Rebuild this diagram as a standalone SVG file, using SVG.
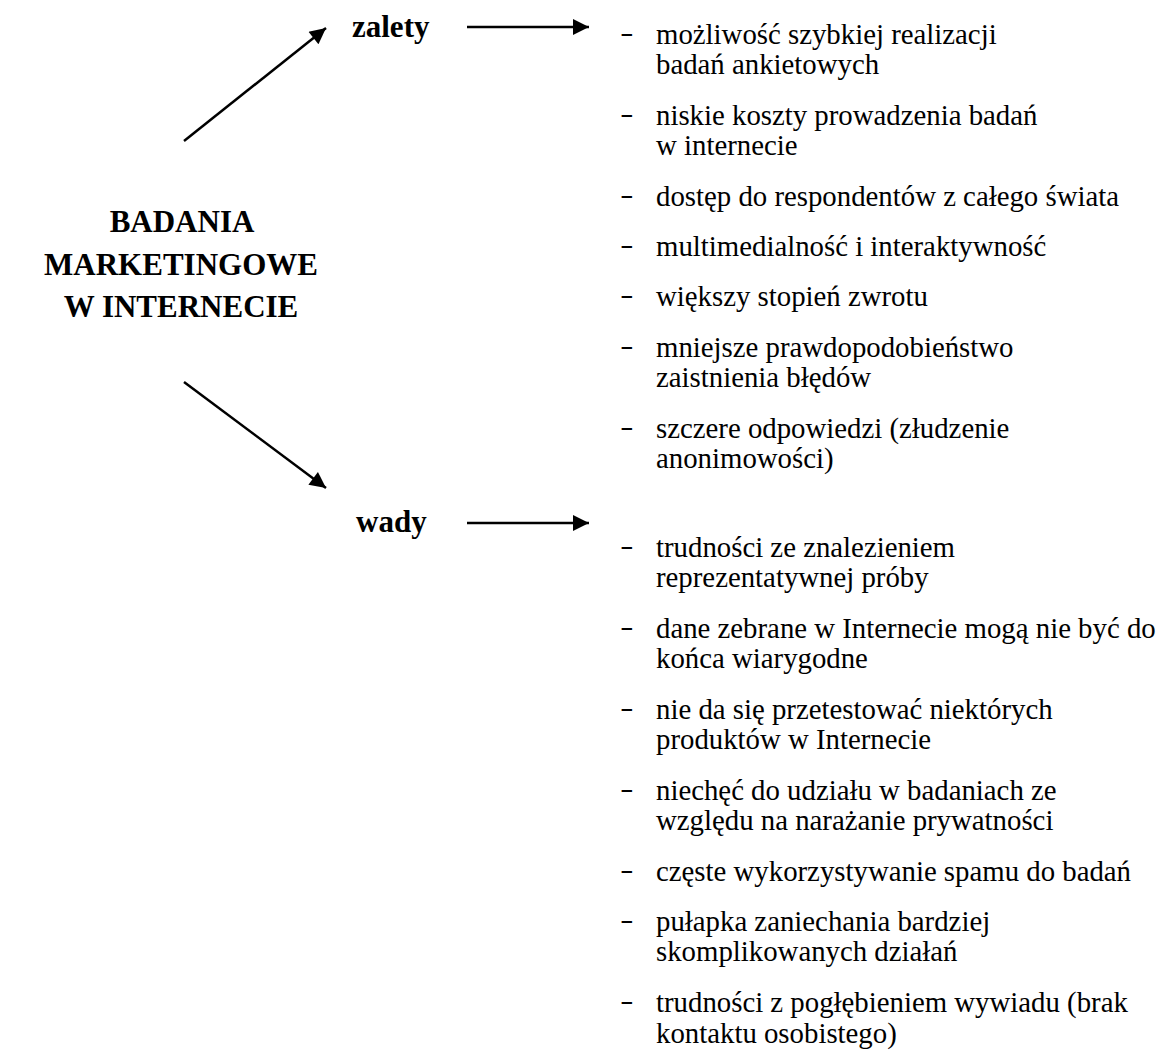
<svg xmlns="http://www.w3.org/2000/svg" width="1167" height="1055" viewBox="0 0 1167 1055">
  <style>
    .title { font-family: "Liberation Serif", "Times New Roman", serif; font-weight: bold; font-size: 31px; fill: #000; text-anchor: middle; }
    .label { font-family: "Liberation Serif", "Times New Roman", serif; font-weight: bold; font-size: 31px; fill: #000; }
    .item { font-family: "Liberation Serif", "Times New Roman", serif; font-size: 28.8px; fill: #000; }
    .dash { font-family: "Liberation Sans", Arial, sans-serif; font-weight: bold; font-size: 21px; fill: #000; }
    .conn { stroke: #000; stroke-width: 2.5; fill: none; marker-end: url(#head); }
  </style>
  <defs>
    <marker id="head" viewBox="0 0 10 10" refX="10" refY="5" markerUnits="userSpaceOnUse" markerWidth="22" markerHeight="16" orient="auto">
      <path d="M0,0 L10,5 L0,10 Z" fill="#000"/>
    </marker>
  </defs>
  <rect width="1167" height="1055" fill="#fff"/>

  <!-- central topic -->
  <g id="topic">
    <text class="title" x="182" y="232">BADANIA</text>
    <text class="title" x="181" y="275">MARKETINGOWE</text>
    <text class="title" x="181" y="317">W INTERNECIE</text>
  </g>

  <!-- advantages -->
  <g id="zalety">
    <text class="label" x="352" y="37">zalety</text>
  </g>

  <!-- disadvantages -->
  <g id="wady">
    <text class="label" x="356" y="532">wady</text>
  </g>

  <!-- list of advantages -->
  <g id="zalety-list">
    <text class="dash" x="621" y="40">–</text>
    <text class="item" x="656" y="44">możliwość szybkiej realizacji</text>
    <text class="item" x="656" y="74">badań ankietowych</text>
    <text class="dash" x="621" y="121">–</text>
    <text class="item" x="656" y="125">niskie koszty prowadzenia badań</text>
    <text class="item" x="656" y="155">w internecie</text>
    <text class="dash" x="621" y="202">–</text>
    <text class="item" x="656" y="206">dostęp do respondentów z całego świata</text>
    <text class="dash" x="621" y="252">–</text>
    <text class="item" x="656" y="256">multimedialność i interaktywność</text>
    <text class="dash" x="621" y="302">–</text>
    <text class="item" x="656" y="306">większy stopień zwrotu</text>
    <text class="dash" x="621" y="353">–</text>
    <text class="item" x="656" y="357">mniejsze prawdopodobieństwo</text>
    <text class="item" x="656" y="387">zaistnienia błędów</text>
    <text class="dash" x="621" y="434">–</text>
    <text class="item" x="656" y="438">szczere odpowiedzi (złudzenie</text>
    <text class="item" x="656" y="468">anonimowości)</text>
  </g>

  <!-- list of disadvantages -->
  <g id="wady-list">
    <text class="dash" x="621" y="553">–</text>
    <text class="item" x="656" y="557">trudności ze znalezieniem</text>
    <text class="item" x="656" y="587">reprezentatywnej próby</text>
    <text class="dash" x="621" y="634">–</text>
    <text class="item" x="656" y="638">dane zebrane w Internecie mogą nie być do</text>
    <text class="item" x="656" y="668">końca wiarygodne</text>
    <text class="dash" x="621" y="715">–</text>
    <text class="item" x="656" y="719">nie da się przetestować niektórych</text>
    <text class="item" x="656" y="749">produktów w Internecie</text>
    <text class="dash" x="621" y="796">–</text>
    <text class="item" x="656" y="800">niechęć do udziału w badaniach ze</text>
    <text class="item" x="656" y="830">względu na narażanie prywatności</text>
    <text class="dash" x="621" y="877">–</text>
    <text class="item" x="656" y="881">częste wykorzystywanie spamu do badań</text>
    <text class="dash" x="621" y="927">–</text>
    <text class="item" x="656" y="931">pułapka zaniechania bardziej</text>
    <text class="item" x="656" y="961">skomplikowanych działań</text>
    <text class="dash" x="621" y="1008">–</text>
    <text class="item" x="656" y="1012">trudności z pogłębieniem wywiadu (brak</text>
    <text class="item" x="656" y="1043">kontaktu osobistego)</text>
  </g>

  <!-- connectors -->
  <g id="connectors">
    <line class="conn" x1="184" y1="141" x2="326" y2="28"/>
    <line class="conn" x1="467" y1="27" x2="589" y2="27"/>
    <line class="conn" x1="184" y1="382" x2="326" y2="488"/>
    <line class="conn" x1="467" y1="523" x2="589" y2="523"/>
  </g>
</svg>
